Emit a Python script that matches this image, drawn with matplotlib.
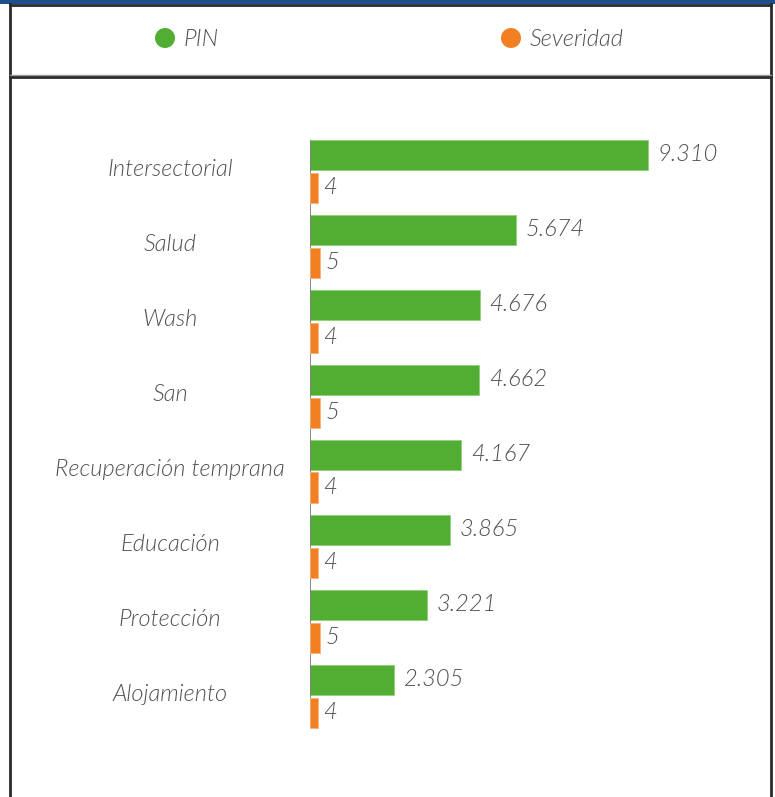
import matplotlib
matplotlib.use("Agg")
import matplotlib.pyplot as plt
from matplotlib import font_manager
from matplotlib.lines import Line2D
from matplotlib.patches import Ellipse, Rectangle
from matplotlib.transforms import blended_transform_factory

# ---------------------------------------------------------------------------
# Data
# ---------------------------------------------------------------------------
categories = [
    "Intersectorial",
    "Salud",
    "Wash",
    "San",
    "Recuperación temprana",
    "Educación",
    "Protección",
    "Alojamiento",
]
pin = [9310, 5674, 4676, 4662, 4167, 3865, 3221, 2305]
severidad = [4, 5, 4, 5, 4, 4, 5, 4]
pin_labels = ["9.310", "5.674", "4.676", "4.662", "4.167", "3.865", "3.221", "2.305"]

GREEN = "#51ae32"
ORANGE = "#f28022"
TEXT = "#505050"
FS = 17

# Lato Light Italic, picked by file so matching can't land on Hairline/Thin
light_italic = [f.fname for f in font_manager.fontManager.ttflist
                if f.fname.endswith("Lato-LightItalic.ttf")]
if light_italic:
    FONT = dict(fontproperties=font_manager.FontProperties(fname=light_italic[0], size=FS))
else:
    FONT = dict(family="Lato", style="italic", weight="normal", fontsize=FS)

W, H = 775, 797


def fx(x):
    return x / W


def fy(y):
    return 1 - y / H


fig = plt.figure(figsize=(W / 100, H / 100), dpi=100)

# frame: blue top stripe, legend box, chart box
fig.add_artist(Rectangle((0, fy(4)), 1, 4 / H, transform=fig.transFigure,
                         color="#1f4e8c", lw=0))
frame = dict(color="#2b2b2b", lw=2, transform=fig.transFigure)
fig.add_artist(Line2D([fx(10), fx(10)], [fy(4), 0], **frame))
fig.add_artist(Line2D([fx(771), fx(771)], [fy(4), 0], **frame))
fig.add_artist(Line2D([fx(10), fx(771)], [fy(5), fy(5)], **frame))
fig.add_artist(Line2D([fx(10), fx(771)], [fy(75), fy(75)], color="#9a9a9a", lw=1,
                      transform=fig.transFigure))
fig.add_artist(Line2D([fx(10), fx(771)], [fy(77), fy(77)], **frame))

# legend row
for cx, color, name in [(165, GREEN, "PIN"), (511, ORANGE, "Severidad")]:
    fig.add_artist(Ellipse((fx(cx), fy(38)), 20 / W, 20 / H,
                           transform=fig.transFigure, color=color, lw=0))
    fig.text(fx(cx + 19), fy(39), name, color=TEXT, va="center", ha="left", **FONT)

# ---------------------------------------------------------------------------
# Bars
# ---------------------------------------------------------------------------
left, top = 310, 133.5
xmax = 12000
ax_w = xmax * (648 - 310) / pin[0]
ax_h = 75 * len(categories)
ax = fig.add_axes([fx(left), fy(top + ax_h), ax_w / W, ax_h / H])
ax.set_xlim(0, xmax)
ax.set_ylim(len(categories) - 0.5, -0.5)

ypos = list(range(len(categories)))
off, bh = 0.22, 0.4
green_bars = ax.barh([y - off for y in ypos], pin, height=bh, color=GREEN,
                     edgecolor="#8fcf7a", linewidth=0.6)
ax.bar_label(green_bars, labels=pin_labels, padding=7, color=TEXT, **FONT)
ax.vlines(0, -off - bh / 2, ypos[-1] + off + bh / 2, color="#777777", lw=1.2,
          zorder=5)

ax2 = ax.twiny()
ax2.set_xlim(0, 225)
sev_bars = ax2.barh([y + off for y in ypos], severidad, height=bh,
                    color=ORANGE, edgecolor="#f7b07a", linewidth=0.6)
ax2.bar_label(sev_bars, padding=4, color=TEXT, **FONT)
ax2.set_ylim(len(categories) - 0.5, -0.5)

for a in (ax, ax2):
    for s in a.spines.values():
        s.set_visible(False)
    a.set_xticks([])
    a.set_yticks([])
    a.patch.set_visible(False)

# category labels centred in the left column
trans = blended_transform_factory(fig.transFigure, ax.transData)
for y, name in zip(ypos, categories):
    ax.text(fx(170), y - 0.02, name, transform=trans, ha="center", va="center",
            color=TEXT, **FONT)

fig.savefig("out.png", dpi=100)
